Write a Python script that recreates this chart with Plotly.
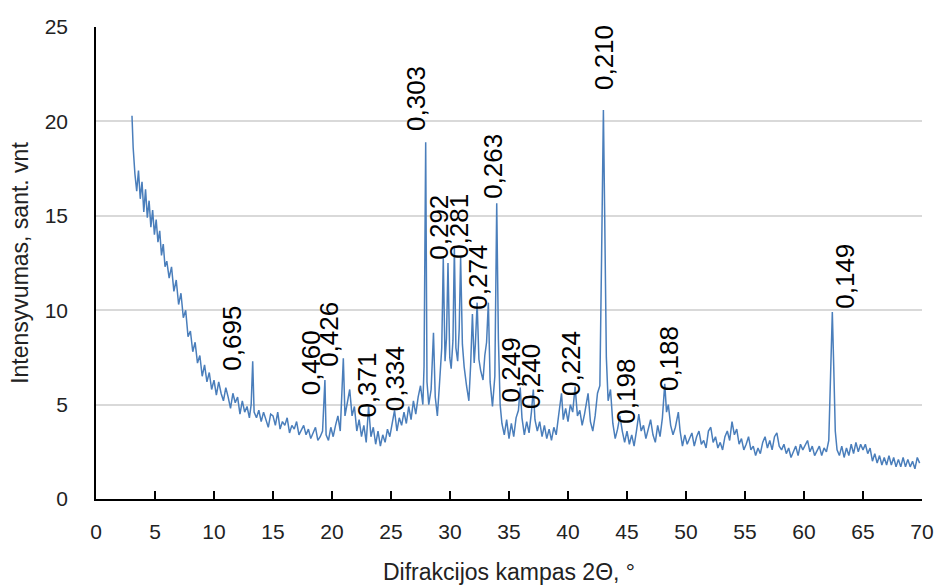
import plotly.graph_objects as go

two_theta = [
    3.05, 3.15, 3.3, 3.45, 3.6, 3.75, 3.9, 4.05, 4.2, 4.35, 4.5, 4.65, 4.8, 4.95, 5.1, 5.25, 5.4, 5.55, 5.7, 5.85,
    6.0, 6.2, 6.4, 6.6, 6.8, 7.0, 7.2, 7.4, 7.6, 7.8, 8.0, 8.2, 8.4, 8.6, 8.8, 9.0, 9.2, 9.4, 9.6, 9.8,
    10.0, 10.2, 10.4, 10.6, 10.8, 11.0, 11.2, 11.4, 11.6, 11.8, 12.0, 12.2, 12.4, 12.6, 12.8, 13.0, 13.15, 13.28, 13.4, 13.6,
    13.8, 14.0, 14.2, 14.4, 14.6, 14.8, 15.0, 15.2, 15.4, 15.6, 15.8, 16.0, 16.2, 16.4, 16.6, 16.8, 17.0, 17.2, 17.4, 17.6,
    17.8, 18.0, 18.2, 18.4, 18.6, 18.8, 19.0, 19.2, 19.4, 19.5, 19.7, 19.9, 20.1, 20.3, 20.5, 20.7, 20.96, 21.1, 21.3, 21.5,
    21.7, 21.9, 22.1, 22.3, 22.5, 22.7, 22.9, 23.1, 23.3, 23.5, 23.7, 23.9, 24.1, 24.3, 24.5, 24.7, 24.9, 25.1, 25.3, 25.5,
    25.7, 25.9, 26.1, 26.3, 26.5, 26.7, 26.9, 27.1, 27.3, 27.5, 27.7, 27.8, 27.94, 28.05, 28.2, 28.4, 28.6, 28.75, 28.93, 29.1,
    29.3, 29.43, 29.58, 29.7, 29.83, 29.98, 30.1, 30.25, 30.37, 30.5, 30.65, 30.78, 30.9, 31.05, 31.2, 31.4, 31.6, 31.75, 31.9, 32.05,
    32.15, 32.3, 32.45, 32.6, 32.8, 32.95, 33.1, 33.25, 33.4, 33.6, 33.8, 33.96, 34.1, 34.25, 34.4, 34.6, 34.8, 35.0, 35.2, 35.4,
    35.6, 35.8, 35.95, 36.1, 36.3, 36.5, 36.7, 36.9, 37.06, 37.2, 37.4, 37.6, 37.8, 38.0, 38.2, 38.4, 38.6, 38.8, 39.0, 39.2,
    39.45, 39.6, 39.8, 40.0, 40.2, 40.4, 40.6, 40.8, 41.0, 41.2, 41.4, 41.7, 41.9, 42.1, 42.3, 42.5, 42.7, 42.85, 43.0, 43.1,
    43.25, 43.4, 43.6, 43.8, 44.0, 44.2, 44.4, 44.6, 44.8, 45.0, 45.2, 45.4, 45.6, 45.8, 46.0, 46.2, 46.4, 46.6, 46.8, 47.0,
    47.2, 47.4, 47.6, 47.8, 48.0, 48.2, 48.35, 48.5, 48.7, 48.9, 49.1, 49.35, 49.5, 49.7, 49.9, 50.1, 50.3, 50.5, 50.7, 50.9,
    51.1, 51.3, 51.5, 51.7, 51.9, 52.1, 52.3, 52.5, 52.7, 52.9, 53.1, 53.3, 53.5, 53.7, 53.9, 54.1, 54.3, 54.5, 54.7, 54.9,
    55.1, 55.3, 55.5, 55.7, 55.9, 56.1, 56.3, 56.5, 56.7, 56.9, 57.1, 57.3, 57.5, 57.7, 57.9, 58.1, 58.3, 58.5, 58.7, 58.9,
    59.1, 59.3, 59.5, 59.7, 59.9, 60.1, 60.3, 60.5, 60.7, 60.9, 61.1, 61.3, 61.5, 61.7, 61.9, 62.1, 62.25, 62.4, 62.52, 62.65,
    62.8, 63.0, 63.2, 63.4, 63.6, 63.8, 64.0, 64.2, 64.4, 64.6, 64.8, 65.0, 65.2, 65.4, 65.6, 65.8, 66.0, 66.2, 66.4, 66.6,
    66.8, 67.0, 67.2, 67.4, 67.6, 67.8, 68.0, 68.2, 68.4, 68.6, 68.8, 69.0, 69.2, 69.4, 69.6, 69.8,
]

intensity = [
    20.3, 18.6, 17.2, 16.3, 17.4, 15.9, 16.8, 15.2, 16.4, 14.9, 15.8, 14.4, 15.3, 14.0, 14.8, 13.6, 14.2, 12.9, 13.5, 12.3,
    12.6, 11.7, 12.3, 11.0, 11.6, 10.3, 10.9, 9.6, 10.0, 8.6, 8.9, 7.8, 8.3, 7.2, 7.6, 6.5, 7.1, 6.2, 6.7, 5.8,
    6.3, 5.5, 6.2, 5.6, 5.2, 5.9, 5.4, 4.8, 5.6, 5.1, 5.4, 4.5, 5.2, 4.6, 4.9, 4.3, 5.0, 7.3, 4.6, 4.3,
    4.7, 4.1, 4.6, 4.2, 3.8, 4.5, 4.4, 3.9, 4.6, 3.7, 4.1, 3.9, 4.3, 3.5, 3.9, 3.7, 4.1, 3.4, 3.7, 3.9,
    3.4, 3.7, 3.2, 3.5, 3.8, 3.1, 3.3, 3.6, 6.3, 3.4, 3.1, 3.8, 3.3, 3.9, 4.4, 3.6, 7.45, 4.4, 5.2, 5.8,
    4.4, 4.9, 3.6, 4.2, 3.3, 3.9, 3.0, 4.9, 3.3, 3.8, 2.9, 3.6, 2.8, 3.4, 3.0, 3.7, 3.3, 4.0, 4.7, 3.6,
    4.3, 3.9, 4.6, 4.0, 4.9, 4.2, 5.2, 4.5, 5.4, 6.0, 5.0, 7.0, 18.9, 6.2, 5.0, 5.8, 8.8, 5.4, 4.4, 6.0,
    8.0, 12.75, 7.3, 8.5, 12.5, 7.5, 6.9, 8.4, 13.3, 8.0, 7.3, 9.0, 12.8, 8.2, 7.0, 6.0, 5.2, 7.1, 9.8, 7.2,
    8.2, 10.4, 7.4, 6.8, 6.3, 7.6, 8.3, 10.4, 6.2, 4.9, 6.5, 15.66, 8.5, 5.0, 4.0, 3.4, 4.2, 3.2, 4.0, 3.3,
    4.3, 4.7, 5.9, 4.3, 3.4, 4.1, 3.5, 4.6, 5.8, 4.2, 3.6, 4.1, 3.3, 3.9, 3.2, 3.7, 3.1, 3.8, 3.4, 4.4,
    5.6, 4.2, 4.8, 4.1, 5.0, 4.6, 5.95, 4.4, 4.7, 3.9, 4.5, 5.6, 4.1, 3.6, 4.4, 5.6, 6.0, 13.0, 20.6, 15.5,
    7.5, 5.2, 5.8, 4.0, 3.2, 3.7, 4.4, 3.6, 3.0, 3.6, 2.9, 3.4, 2.8, 3.6, 4.5, 3.6, 3.9, 3.2, 3.7, 4.2,
    3.4, 3.0, 3.9, 3.3, 4.3, 6.1, 4.6, 5.0, 3.9, 3.4, 3.8, 4.6, 3.6, 2.8, 3.4, 2.9, 3.2, 3.5, 2.8, 3.3,
    3.6, 2.9, 3.1, 2.7, 3.6, 3.8, 3.0, 3.3, 2.7, 3.0, 2.6, 3.3, 3.6, 3.1, 4.1, 3.4, 3.7, 2.9, 3.2, 2.6,
    2.9, 3.3, 2.6, 2.8, 2.3, 2.7, 2.4, 3.0, 3.3, 2.7, 3.1, 2.6, 3.3, 3.5, 2.8, 2.6, 2.9, 2.4, 2.7, 2.2,
    2.5, 2.8, 2.3, 2.9, 2.6, 2.9, 3.1, 2.5, 2.8, 2.3, 2.6, 2.8, 2.3, 2.7, 2.5, 3.1, 6.5, 9.9, 7.0, 3.6,
    2.6, 2.3, 2.8, 2.2, 2.7, 2.3, 2.9, 2.4, 3.0, 2.5, 2.9, 2.6, 2.9, 2.4, 2.7, 2.0, 2.4, 1.9, 2.3, 1.8,
    2.2, 1.8, 2.3, 1.8, 2.2, 1.7, 2.1, 1.7, 2.2, 1.7, 2.1, 1.7, 2.0, 1.6, 2.2, 1.9,
]

peak_labels = ["0,695", "0,460", "0,426", "0,371", "0,334", "0,303", "0,292", "0,281", "0,274",
               "0,263", "0,249", "0,240", "0,224", "0,210", "0,198", "0,188", "0,149"]
label_x = [11.5, 18.2, 19.8, 23.0, 25.3, 27.1, 29.0, 30.7, 32.3,
           33.7, 35.2, 36.8, 40.3, 43.0, 44.9, 48.5, 63.5]
label_y = [6.7, 5.4, 6.9, 4.2, 4.55, 19.4, 12.55, 12.6, 9.9,
           15.8, 5.0, 4.65, 5.35, 21.55, 3.9, 5.6, 9.96]

x_ticks = list(range(0, 75, 5))
y_ticks = list(range(0, 30, 5))

fig = go.Figure()
fig.add_trace(go.Scatter(
    x=two_theta, y=intensity, mode="lines",
    line=dict(color="#4A7EBB", width=1.5),
    showlegend=False, hoverinfo="skip",
))

font_family = "Liberation Sans, Arial, sans-serif"
for txt, lx, ly in zip(peak_labels, label_x, label_y):
    fig.add_annotation(
        x=lx, y=ly, text=txt, textangle=-90, showarrow=False,
        xanchor="center", yanchor="bottom",
        font=dict(family=font_family, size=26, color="black"),
    )

fig.update_layout(
    width=939, height=588,
    margin=dict(l=96, r=17, t=27, b=89),
    paper_bgcolor="white", plot_bgcolor="white",
    font=dict(family=font_family, size=21, color="#222"),
)
fig.update_xaxes(
    range=[0, 70], tickvals=x_ticks, showgrid=False, zeroline=False, automargin=False,
    showline=True, linecolor="black", linewidth=1.5,
    ticks="inside", ticklen=8, tickcolor="black", tickwidth=1.5,
    ticklabelstandoff=13,
    title=dict(text="Difrakcijos kampas 2Θ, °", font=dict(size=23), standoff=22),
)
fig.update_yaxes(
    range=[0, 25], tickvals=y_ticks, showgrid=True, gridcolor="#D9D9D9", gridwidth=1.5,
    zeroline=False, automargin=False, showline=True, linecolor="black", linewidth=1.5,
    ticks="", ticklabelstandoff=22,
    title=dict(text="Intensyvumas, sant. vnt", font=dict(size=23), standoff=10),
)

fig.write_html("out.html")
